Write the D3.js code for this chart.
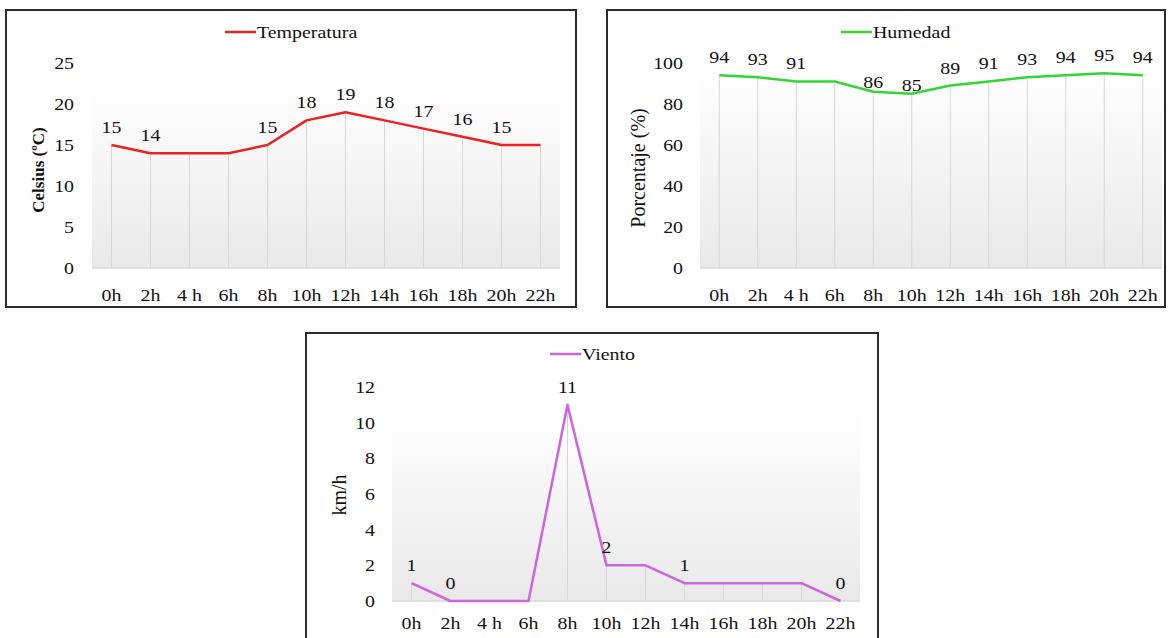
<!DOCTYPE html>
<html>
<head>
<meta charset="utf-8">
<script src="https://cdn.jsdelivr.net/npm/d3@7"></script>
<style>
  html, body { margin: 0; padding: 0; background: #ffffff; }
  svg { display: block; }
  text { font-family: "Liberation Serif", "Times New Roman", serif; fill: #111111; }
</style>
</head>
<body>
<svg id="chart" width="1168" height="638"></svg>
<script>
// Hourly readings, one value every two hours
const hours = ["0h", "2h", "4 h", "6h", "8h", "10h", "12h", "14h", "16h", "18h", "20h", "22h"];

const temperatura = [15, 14, 14, 14, 15, 18, 19, 18, 17, 16, 15, 15];
const humedad     = [94, 93, 91, 91, 86, 85, 89, 91, 93, 94, 95, 94];
const viento      = [1, 0, 0, 0, 11, 2, 2, 1, 1, 1, 1, 0];

const temperaturaTicks = [0, 5, 10, 15, 20, 25];
const humedadTicks     = [0, 20, 40, 60, 80, 100];
const vientoTicks      = [0, 2, 4, 6, 8, 10, 12];

// Hours whose value is written above the line
const temperaturaLabeled = ["0h", "2h", "8h", "10h", "12h", "14h", "16h", "18h", "20h"];
const humedadLabeled     = ["0h", "2h", "4 h", "8h", "10h", "12h", "14h", "16h", "18h", "20h", "22h"];
const vientoLabeled      = ["0h", "2h", "8h", "10h", "14h", "22h"];

const svg = d3.select("#chart");

const defs = svg.append("defs");
const grad = defs.append("linearGradient")
  .attr("id", "plotFill").attr("x1", 0).attr("y1", 0).attr("x2", 0).attr("y2", 1);
grad.append("stop").attr("offset", "0%").attr("stop-color", "#ffffff");
grad.append("stop").attr("offset", "100%").attr("stop-color", "#e9e9e9");

const FONT = 17;
const STRETCH = 1.17;

const panels = [
  {
    name: "Temperatura", values: temperatura, ticks: temperaturaTicks, labeled: temperaturaLabeled,
    color: "#ee2020", yTitle: "Celsius (ºC)", titleBold: true, titleSize: 17,
    box: [6, 10, 576, 307], x0: 92, x1: 560, yBase: 268, yTop: 63, bgTop: 85,
    xPad: 21, yPad: 18, legend: [225, 32], titleX: 38, titleY: 170, lift: {}
  },
  {
    name: "Humedad", values: humedad, ticks: humedadTicks, labeled: humedadLabeled,
    color: "#33d633", yTitle: "Porcentaje (%)", titleBold: false, titleSize: 20,
    box: [607, 10, 1165, 307], x0: 700, x1: 1162, yBase: 268, yTop: 63, bgTop: 70,
    xPad: 21, yPad: 17, legend: [841, 32], titleX: 638, titleY: 168,
    lift: { "8h": 4, "10h": 3 }
  },
  {
    name: "Viento", values: viento, ticks: vientoTicks, labeled: vientoLabeled,
    color: "#cc66dd", yTitle: "km/h", titleBold: false, titleSize: 20,
    box: [306, 333, 878, 650], x0: 392, x1: 860, yBase: 601, yTop: 387, bgTop: 410,
    xPad: 16, yPad: 17, legend: [550, 354], titleX: 339, titleY: 495, lift: {}
  }
];

panels.forEach(p => {
  const g = svg.append("g");

  // Frame
  g.append("rect")
    .attr("x", p.box[0]).attr("y", p.box[1])
    .attr("width", p.box[2] - p.box[0]).attr("height", p.box[3] - p.box[1])
    .attr("fill", "#ffffff").attr("stroke", "#2b2b2b").attr("stroke-width", 2);

  const x = d3.scaleBand().domain(hours).range([p.x0, p.x1]);
  const cx = h => x(h) + x.bandwidth() / 2;
  const y = d3.scaleLinear().domain([0, d3.max(p.ticks)]).range([p.yBase, p.yTop]);

  const data = hours.map((h, i) => ({ h, v: p.values[i] }));

  // Shaded plot background
  g.append("rect")
    .attr("x", p.x0).attr("y", p.bgTop)
    .attr("width", p.x1 - p.x0).attr("height", p.yBase - p.bgTop)
    .attr("fill", "url(#plotFill)");

  // Drop lines from each point to the baseline
  g.selectAll(".drop").data(data).join("line")
    .attr("x1", d => cx(d.h)).attr("x2", d => cx(d.h))
    .attr("y1", d => y(d.v)).attr("y2", p.yBase)
    .attr("stroke", "#d6d6d6").attr("stroke-width", 1);

  // Baseline
  g.append("line")
    .attr("x1", p.x0).attr("x2", p.x1).attr("y1", p.yBase).attr("y2", p.yBase)
    .attr("stroke", "#d9d9d9").attr("stroke-width", 1.5);

  // Axes (labels only)
  const yAxis = g.append("g").attr("transform", `translate(${p.x0},0)`)
    .call(d3.axisLeft(y).tickValues(p.ticks).tickSize(0).tickPadding(p.yPad));
  const xAxis = g.append("g").attr("transform", `translate(0,${p.yBase})`)
    .call(d3.axisBottom(x).tickSize(0).tickPadding(p.xPad));
  [yAxis, xAxis].forEach(a => {
    a.select(".domain").remove();
    a.selectAll("text")
      .attr("class", "stretch")
      .style("font-family", "'Liberation Serif', serif")
      .style("font-size", FONT + "px")
      .attr("fill", "#111111");
  });

  // Series line
  g.append("path").datum(data)
    .attr("fill", "none").attr("stroke", p.color).attr("stroke-width", 2.5)
    .attr("stroke-linejoin", "round")
    .attr("d", d3.line().x(d => cx(d.h)).y(d => y(d.v)));

  // Value labels
  g.selectAll(".val").data(data.filter(d => p.labeled.includes(d.h))).join("text")
    .attr("class", "stretch")
    .attr("x", d => cx(d.h))
    .attr("y", d => y(d.v) - (p.lift[d.h] !== undefined ? p.lift[d.h] : 12))
    .attr("text-anchor", "middle")
    .style("font-size", FONT + "px")
    .text(d => d.v);

  // Legend
  g.append("line")
    .attr("x1", p.legend[0]).attr("x2", p.legend[0] + 31)
    .attr("y1", p.legend[1]).attr("y2", p.legend[1])
    .attr("stroke", p.color).attr("stroke-width", 2.5);
  g.append("text").attr("class", "stretch")
    .attr("x", p.legend[0] + 32).attr("y", p.legend[1] + 6)
    .style("font-size", FONT + "px")
    .text(p.name);

  // Y-axis title
  g.append("text")
    .attr("transform", `translate(${p.titleX},${p.titleY}) rotate(-90)`)
    .attr("text-anchor", "middle").attr("dy", "0.35em")
    .style("font-size", p.titleSize + "px")
    .style("font-weight", p.titleBold ? "bold" : "normal")
    .text(p.yTitle);
});

// Widen horizontal text slightly, the way the printed figure renders it
svg.selectAll("text.stretch").each(function () {
  const w = this.getComputedTextLength();
  d3.select(this).attr("textLength", w * STRETCH).attr("lengthAdjust", "spacingAndGlyphs");
});
</script>
</body>
</html>
